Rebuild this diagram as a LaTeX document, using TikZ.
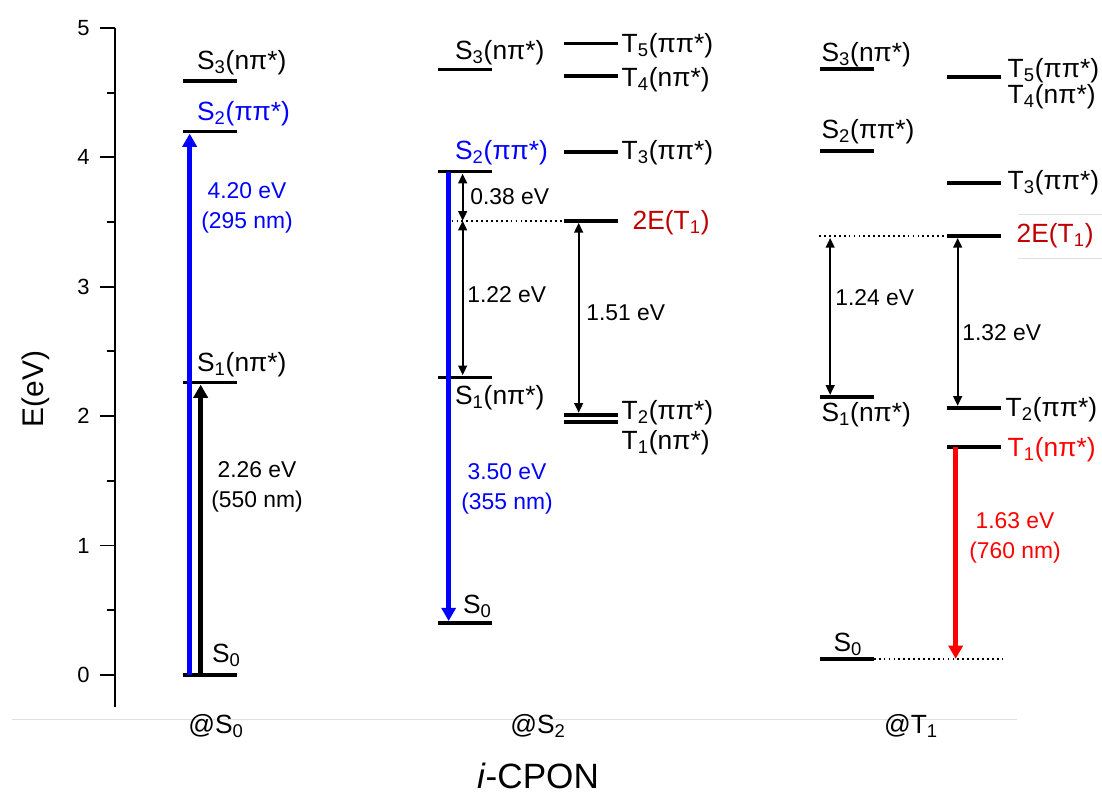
\documentclass[tikz,border=0pt]{standalone}
\usepackage{fontspec}
\setmainfont{Liberation Sans}
\usetikzlibrary{arrows.meta,calc}
\definecolor{darkred}{RGB}{192,0,0}

\begin{document}
\begin{tikzpicture}[
  x=0.02cm, y=2.588cm,
  lvl/.style={fill=black, inner sep=0pt, minimum width=1.08cm, minimum height=0.07cm},
  lab/.style={anchor=west, inner sep=0pt, font=\fontsize{15}{17}\selectfont},
  val/.style={anchor=west, inner sep=0pt, align=center, font=\fontsize{13}{17}\selectfont},
  big/.style={line width=2.6pt, -{Triangle[length=7.5pt,width=8pt]}},
  gap/.style={line width=1pt, {Triangle[length=5.5pt,width=5pt]}-{Triangle[length=5.5pt,width=5pt]}},
  dots/.style={line width=0.9pt, dash pattern=on 1pt off 1.8pt},
  ax/.style={line width=1.1pt},
  faint/.style={black!12, line width=0.5pt}
]
\useasboundingbox (0,-0.9196) rectangle (1102,5.2164);

\draw[faint] (12,-0.348) -- (1017,-0.348);
\draw[faint] (1018,3.555) -- (1102,3.555);
\draw[faint] (1018,3.215) -- (1102,3.215);

% energy axis
\draw[ax] (115,5) -- (115,-0.247);
\foreach \e in {0,...,5} {
  \draw[ax] (100,\e) -- (115,\e);
  \node[anchor=east, inner sep=0pt, font=\fontsize{12.5}{14}\selectfont] (tk\e) at (90,\e) {\e};
}
\foreach \e in {0.5,1.5,...,4.5}
  \draw[ax] (107,\e) -- (115,\e);
\node[rotate=90, font=\fontsize{17}{20}\selectfont] (elabel) at (36,2.21) {E(eV)};

% @S0
\node[lvl] (aS3) at (210,4.59) {};
\node[lvl] (aS2) at (210,4.20) {};
\node[lvl] (aS1) at (210,2.26) {};
\node[lvl] (aS0) at (210,0) {};
\node[lab] (aS3t) at ($(aS3.west)+(14,0.14)$) {S\textsubscript{3}(nπ*)};
\node[lab, blue] (aS2t) at ($(aS2.west)+(14,0.14)$) {S\textsubscript{2}(ππ*)};
\node[lab] (aS1t) at ($(aS1.west)+(14,0.14)$) {S\textsubscript{1}(nπ*)};
\node[lab] (aS0t) at ($(aS0.west)+(29,0.15)$) {S\textsubscript{0}};
\draw[big, blue] ($(aS0.west)+(7,0)$) -- ($(aS2.south west)+(7,0)$);
\draw[big] ($(aS0.west)+(18,0)$) -- ($(aS1.south west)+(18,0)$);
\node[val, anchor=center, blue] (aV2) at (247,3.61) {4.20 eV\\(295 nm)};
\node[val, anchor=center] (aV1) at (257,1.453) {2.26 eV\\(550 nm)};

% @S2
\node[lvl] (bS3) at (465,4.68) {};
\node[lvl] (bS2) at (465,3.89) {};
\node[lvl] (bS1) at (465,2.30) {};
\node[lvl] (bS0) at (465,0.40) {};
\node[lvl] (bT5) at (591,4.88) {};
\node[lvl] (bT4) at (591,4.63) {};
\node[lvl] (bT3) at (591,4.04) {};
\node[lvl] (bE) at (591,3.51) {};
\node[lvl] (bT2) at (591,2.01) {};
\node[lvl] (bT1) at (591,1.955) {};
\node[lab] (bS3t) at ($(bS3.west)+(17,0.13)$) {S\textsubscript{3}(nπ*)};
\node[lab, blue] (bS2t) at ($(bS2.west)+(17,0.15)$) {S\textsubscript{2}(ππ*)};
\node[lab] (bS1t) at ($(bS1.west)+(17,-0.16)$) {S\textsubscript{1}(nπ*)};
\node[lab] (bS0t) at ($(bS0.west)+(25,0.13)$) {S\textsubscript{0}};
\node[lab] (bT5t) at ($(bT5.east)+(3,-0.02)$) {T\textsubscript{5}(ππ*)};
\node[lab] (bT4t) at ($(bT4.east)+(3,-0.03)$) {T\textsubscript{4}(nπ*)};
\node[lab] (bT3t) at ($(bT3.east)+(3,0)$) {T\textsubscript{3}(ππ*)};
\node[lab, darkred] (bEt) at ($(bE.east)+(14,-0.015)$) {2E(T\textsubscript{1})};
\node[lab] (bT2t) at ($(bT2.east)+(3,0.02)$) {T\textsubscript{2}(ππ*)};
\node[lab] (bT1t) at ($(bT1.east)+(3,-0.16)$) {T\textsubscript{1}(nπ*)};
\draw[dots] ($(bS1.west |- bE.west)+(14,0)$) -- (bE.west);
\draw[big, blue] ($(bS2.west)+(11,0)$) -- ($(bS0.north west)+(11,0)$);
\draw[gap] ($(bS2.south west)+(25,0)$) -- ($(bS1.west |- bE.west)+(25,0)$);
\draw[gap] ($(bS1.west |- bE.west)+(25,0)$) -- ($(bS1.north west)+(25,0)$);
\draw[gap] ($(bE.south west)+(15,0)$) -- ($(bT2.north west)+(15,0)$);
\node[val] (bV1) at (470,3.70) {0.38 eV};
\node[val] (bV2) at (467,2.937) {1.22 eV};
\node[val] (bV3) at (586,2.797) {1.51 eV};
\node[val, anchor=center, blue] (bV4) at (507,1.437) {3.50 eV\\(355 nm)};

% @T1
\node[lvl] (cS3) at (846.5,4.683) {};
\node[lvl] (cS2) at (846.5,4.049) {};
\node[lvl] (cS1) at (846.5,2.148) {};
\node[lvl] (cS0) at (846.5,0.124) {};
\node[lvl] (cT5) at (974,4.621) {};
\node[lvl] (cT3) at (974,3.802) {};
\node[lvl] (cE) at (974,3.393) {};
\node[lvl] (cT2) at (974,2.063) {};
\node[lvl] (cT1) at (974,1.762) {};
\node[lab] (cS3t) at ($(cS3.west)+(2,0.11)$) {S\textsubscript{3}(nπ*)};
\node[lab] (cS2t) at ($(cS2.west)+(2,0.15)$) {S\textsubscript{2}(ππ*)};
\node[lab] (cS1t) at ($(cS1.west)+(2,-0.14)$) {S\textsubscript{1}(nπ*)};
\node[lab] (cS0t) at ($(cS0.west)+(14,0.11)$) {S\textsubscript{0}};
\node[lab] (cT5t) at ($(cT5.east)+(6,0.05)$) {T\textsubscript{5}(ππ*)};
\node[lab] (cT4t) at ($(cT5.east)+(6,-0.155)$) {T\textsubscript{4}(nπ*)};
\node[lab] (cT3t) at ($(cT3.east)+(6,0)$) {T\textsubscript{3}(ππ*)};
\node[lab, darkred] (cEt) at ($(cE.east)+(15,0)$) {2E(T\textsubscript{1})};
\node[lab] (cT2t) at ($(cT2.east)+(4,-0.015)$) {T\textsubscript{2}(ππ*)};
\node[lab, red] (cT1t) at ($(cT1.east)+(6,-0.02)$) {T\textsubscript{1}(nπ*)};
\draw[dots] (cS1.west |- cE.west) -- (cE.west);
\draw[dots] (cS0.east) -- ($(cT1.east |- cS0.east)+(1,0)$);
\draw[gap] ($(cS1.west |- cE.south)+(11,0)$) -- ($(cS1.north west)+(11,0)$);
\draw[gap] ($(cE.south west)+(11,0)$) -- ($(cT2.north west)+(11,0)$);
\draw[big, red] ($(cT1.west)+(9,0)$) -- ($(cT1.west |- cS0.west)+(9,0)$);
\node[val] (cV1) at (835,2.913) {1.24 eV};
\node[val] (cV2) at (962,2.643) {1.32 eV};
\node[val, anchor=center, red] (cV3) at (1015,1.059) {1.63 eV\\(760 nm)};

% geometry names
\node[font=\fontsize{15}{17}\selectfont] (geoA) at (216,-0.394) {@S\textsubscript{0}};
\node[font=\fontsize{15}{17}\selectfont] (geoB) at (538,-0.394) {@S\textsubscript{2}};
\node[font=\fontsize{15}{17}\selectfont] (geoC) at (911,-0.394) {@T\textsubscript{1}};
\node[inner sep=0pt, font=\fontsize{20}{24}\selectfont] (mol) at (538,-0.785) {\textit{i}-CPON};
\end{tikzpicture}
\end{document}
